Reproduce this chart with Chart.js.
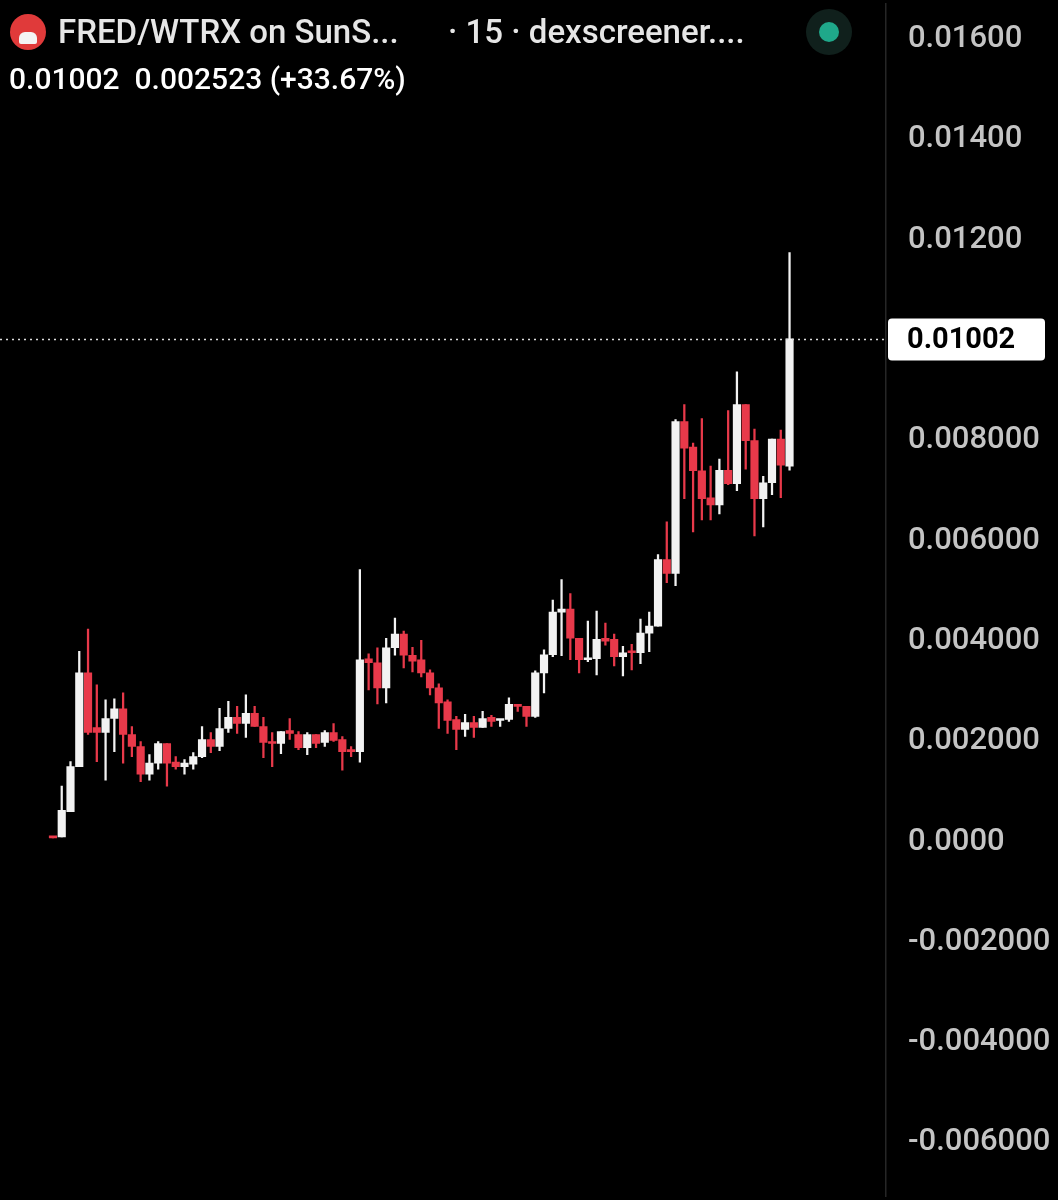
<!DOCTYPE html>
<html><head><meta charset="utf-8">
<script src="https://cdn.jsdelivr.net/npm/chart.js@4/dist/chart.umd.min.js"></script>
<style>
html,body{margin:0;padding:0;background:#000;overflow:hidden}
#wrap{position:relative;width:1058px;height:1200px;overflow:hidden}
#c{position:absolute;left:0;top:-37px}
.h{position:absolute;top:12px;font-family:Roboto,"Liberation Sans",sans-serif;font-weight:500;color:#e6e6e6;font-size:33px;white-space:pre}
#hdr2{position:absolute;left:9px;top:61px;font-family:Roboto,"Liberation Sans",sans-serif;font-weight:500;color:#fff;font-size:30px;white-space:pre}
#ico{position:absolute;left:10px;top:14px;width:36px;height:36px;border-radius:50%;background:#e03a3a}
#ico i{position:absolute;left:9px;top:18px;width:18px;height:12px;border-radius:6px 6px 2px 2px;background:#f4f4f4}
#dot{position:absolute;left:806px;top:9px;width:46px;height:46px;border-radius:50%;background:#10201c}
#dot i{position:absolute;left:13px;top:13px;width:20px;height:20px;border-radius:50%;background:#1fa88a}
</style></head><body>
<div id="wrap"><canvas id="c" width="1058" height="1274"></canvas>
<div id="ico"><i></i></div>
<div class="h" style="left:58px">FRED/WTRX on SunS...</div>
<div class="h" style="left:448px">· 15 · dexscreener....</div>
<div id="hdr2">0.01002  0.002523 (+33.67%)</div>
<div id="dot"><i></i></div>
</div>
<script>
const opens  =[0.0001,0.0001,0.0006,0.0015,0.00337,0.00228,0.00218,0.00246,0.00265,0.00214,0.0019,0.00135,0.00157,0.00196,0.00159,0.0015,0.00155,0.0017,0.00204,0.0019,0.00226,0.00248,0.00236,0.00256,0.0023,0.002,0.00196,0.00222,0.00214,0.00188,0.00214,0.00198,0.00218,0.00204,0.00184,0.0018,
0.00365,0.00357,0.00307,0.00387,0.00414,0.00372,0.00363,0.00337,0.00307,0.00279,0.00244,0.00224,0.00238,0.00228,0.00248,0.00242,0.00244,0.00274,0.0027,0.0025,0.00337,0.00373,0.00458,0.00464,0.00406,0.00363,0.00365,0.00406,0.00404,0.00369,0.00381,0.00377,0.00416,
0.0043,0.00563,0.00535,0.00838,0.00787,0.0074,0.00686,0.00672,0.00741,0.00714,0.00872,0.008,0.00684,0.00716,0.00803,0.00749];
const closes =[0.00008,0.00063,0.0015,0.00337,0.00218,0.00218,0.00246,0.00265,0.00214,0.0019,0.00135,0.00157,0.00196,0.00157,0.0015,0.00157,0.0017,0.00204,0.0019,0.00226,0.00248,0.00236,0.00256,0.0023,0.00198,0.00196,0.0022,0.00216,0.00188,0.00214,0.00196,0.00218,0.00202,0.0018,0.0018,0.00363,
0.00357,0.00307,0.00387,0.00414,0.00372,0.0036,0.00337,0.00307,0.00277,0.00242,0.00224,0.00238,0.00228,0.00246,0.0024,0.00244,0.00274,0.0027,0.0025,0.00337,0.00373,0.00458,0.00464,0.00406,0.00363,0.00367,0.00404,0.004,0.00369,0.00377,0.00377,0.00416,0.0043,
0.00563,0.00535,0.00838,0.00785,0.0074,0.00684,0.00672,0.00741,0.00714,0.00872,0.008,0.00684,0.00716,0.00803,0.00751,0.01003];
const highs  =[0.0001,0.00111,0.0016,0.0038,0.00424,0.00313,0.00283,0.00285,0.00297,0.0023,0.002,0.00174,0.002,0.00196,0.0017,0.00164,0.00178,0.0023,0.00218,0.00266,0.0028,0.0027,0.00293,0.0027,0.00248,0.00218,0.0022,0.00246,0.0022,0.00218,0.00214,0.00222,0.00236,0.0021,0.0019,0.00543,
0.00375,0.00387,0.00406,0.00446,0.0042,0.00388,0.00402,0.00343,0.00315,0.00283,0.0025,0.00254,0.0025,0.0026,0.00252,0.00244,0.00287,0.00274,0.0027,0.00341,0.00383,0.00482,0.00523,0.00495,0.00406,0.0044,0.0046,0.00436,0.00414,0.0039,0.00394,0.00444,0.00458,
0.00573,0.00638,0.00842,0.00872,0.00795,0.00844,0.00749,0.00763,0.0086,0.00937,0.00872,0.00823,0.00729,0.00803,0.00821,0.01175];
const lows   =[0.00008,0.0001,0.0006,0.0015,0.00214,0.0016,0.00123,0.0018,0.00157,0.0017,0.0012,0.00123,0.00145,0.00111,0.00145,0.00135,0.00145,0.00168,0.00178,0.00182,0.00218,0.00216,0.00208,0.0023,0.00168,0.0015,0.00176,0.00204,0.00184,0.00174,0.00188,0.0019,0.002,0.00143,0.0017,0.00159,
0.00303,0.00275,0.00277,0.00372,0.00347,0.00339,0.00329,0.00293,0.00226,0.00216,0.00184,0.0021,0.00208,0.00228,0.0023,0.0023,0.0024,0.0026,0.0023,0.00248,0.00297,0.00369,0.00371,0.00363,0.00337,0.00359,0.00333,0.00392,0.00351,0.00331,0.00343,0.00355,0.00379,
0.0043,0.00517,0.00511,0.00684,0.00618,0.00642,0.00642,0.00654,0.00712,0.007,0.00743,0.0061,0.00628,0.00692,0.00686,0.00741];
const tickLabels={"16":"0.01600","14":"0.01400","12":"0.01200","10":"0.01000","8":"0.008000","6":"0.006000","4":"0.004000","2":"0.002000","0":"0.0000","-2":"-0.002000","-4":"-0.004000","-6":"-0.006000"};
const lastPrice=0.01002, lastLabel="0.01002";

const RED='#e8394a', WHITE='#f2f2f2';
const col=opens.map((o,i)=>closes[i]>=o?WHITE:RED);
const wick=highs.map((h,i)=>({x:i,y:[lows[i],h]}));
const body=opens.map((o,i)=>({x:i,y:[Math.min(o,closes[i]),Math.max(o,closes[i])]}));
const FONT='Roboto, "Liberation Sans", Arial';

const lastPlugin={id:'last',afterDatasetsDraw(ch){
  const ctx=ch.ctx,ys=ch.scales.y,y=Math.round(ys.getPixelForValue(lastPrice))+0.5;
  ctx.save();ctx.strokeStyle='#ddd';ctx.lineWidth=1.5;ctx.setLineDash([2,4]);
  ctx.beginPath();ctx.moveTo(0,y);ctx.lineTo(ch.chartArea.right,y);ctx.stroke();ctx.setLineDash([]);
  ctx.fillStyle='#fff';ctx.beginPath();ctx.roundRect(888,y-21,157,42,4);ctx.fill();
  ctx.fillStyle='#000';ctx.font='bold 29px '+FONT;ctx.textBaseline='middle';
  ctx.fillText(lastLabel,907,y+1);ctx.restore();
}};
new Chart(document.getElementById('c'),{
 type:'bar',
 data:{datasets:[
  {data:wick,backgroundColor:col,barThickness:1.6,grouped:false,order:2},
  {data:body,backgroundColor:col,barThickness:7.5,minBarLength:2,grouped:false,order:1}
 ]},
 options:{responsive:false,animation:false,devicePixelRatio:1,
  layout:{padding:0},
  plugins:{legend:{display:false},tooltip:{enabled:false}},
  scales:{
   x:{type:'linear',min:-6.04,max:95,display:false,offset:false},
   y:{position:'right',min:-0.00707,max:0.016714,
      grid:{display:false,drawTicks:false},border:{display:true,color:'#262626',width:1.5},
      afterFit(s){s.width=172;},
      afterBuildTicks(s){s.ticks=[];for(let k=-6;k<=16;k+=2){if(k!==10)s.ticks.push({value:k/1000});}},
      ticks:{crossAlign:'near',padding:22,color:'#c4c4c4',font:{size:31,weight:500,family:FONT},
        callback:v=>tickLabels[String(Math.round(v*1000))]||''}}
  }},
 plugins:[lastPlugin]
});
</script></body></html>
